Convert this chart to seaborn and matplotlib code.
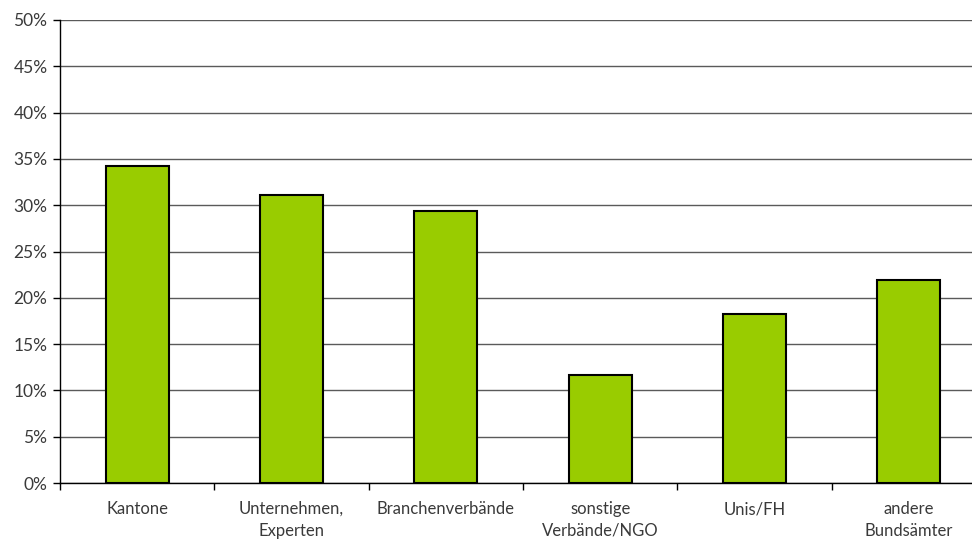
"""
Bar chart: share by stakeholder group
"""
import matplotlib
matplotlib.use("Agg")
import matplotlib.pyplot as plt
import numpy as np
import pandas as pd
import seaborn as sns
from matplotlib.ticker import FixedLocator, PercentFormatter

categories = [
    "Kantone",
    "Unternehmen,\nExperten",
    "Branchenverbände",
    "sonstige\nVerbände/NGO",
    "Unis/FH",
    "andere\nBundsämter",
]
shares = [34.2, 31.1, 29.4, 11.7, 18.3, 21.9]
y_ticks = [0, 5, 10, 15, 20, 25, 30, 35, 40, 45, 50]

sns.set_style("white")
plt.rcParams["font.family"] = ["Lato", "DejaVu Sans"]

df = pd.DataFrame({"Gruppe": categories, "Anteil": shares})

fig = plt.figure(figsize=(9.72, 5.45), dpi=100)
# the original chart is cut off at the right edge, so the axes run past the figure
ax = fig.add_axes([60 / 972, 62 / 545, 926 / 972, 463 / 545])

sns.barplot(
    data=df, x="Gruppe", y="Anteil", color="#99CC00", saturation=1,
    width=0.41, edgecolor="black", linewidth=1.5, ax=ax, zorder=3,
)

ax.set_xlim(-0.5, len(categories) - 0.5)
ax.set_ylim(0, 50)
ax.set_yticks(y_ticks)
ax.yaxis.set_major_formatter(PercentFormatter(decimals=0))
ax.yaxis.grid(True, color="#5a5a5a", linewidth=1.0, zorder=0)
ax.set_axisbelow(True)

# ticks at category boundaries, labels centred
ax.xaxis.set_minor_locator(FixedLocator(np.arange(-0.5, len(categories) - 0.4, 1.0)))
ax.tick_params(axis="x", which="major", length=0, pad=13, labelsize=12, labelcolor="#3a3a3a")
ax.tick_params(axis="x", which="minor", length=5, width=1, color="black", bottom=True)
ax.tick_params(axis="y", length=5, width=1, color="black", left=True, pad=4,
               labelsize=12.5, labelcolor="#3a3a3a")
for lbl in ax.get_xticklabels():
    lbl.set_linespacing(1.45)

for side in ["top", "right"]:
    ax.spines[side].set_visible(False)
for side in ["left", "bottom"]:
    ax.spines[side].set_color("black")
    ax.spines[side].set_linewidth(1.0)

ax.set_xlabel("")
ax.set_ylabel("")

fig.savefig("out.png", dpi=100)
